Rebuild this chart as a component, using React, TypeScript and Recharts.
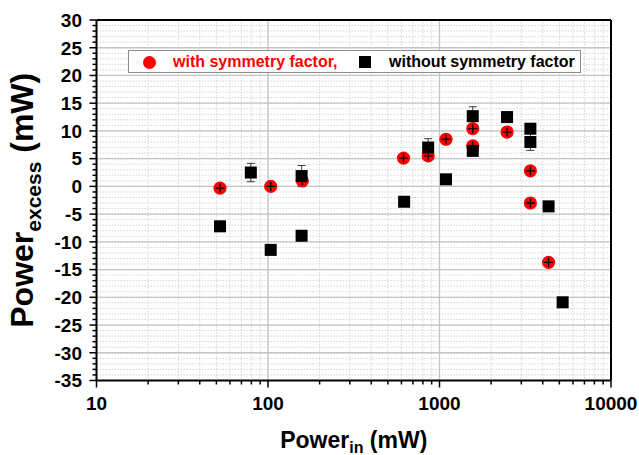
import {
  ScatterChart, Scatter, XAxis, YAxis, CartesianGrid,
  ReferenceLine, ErrorBar, Legend, Label,
} from 'recharts'

const FONT = 'Arial, "Liberation Sans", sans-serif'

// series names
const SERIES = ['with symmetry factor,', 'without symmetry factor']

// with symmetry factor (red)
const withX = [52.5, 103.7, 158.5, 617, 859, 1091, 1563, 1563, 2477, 3388, 3388, 4325]
const withY = [-0.3, 0.0, 1.0, 5.1, 5.5, 8.5, 10.4, 7.3, 9.8, 2.8, -3.0, -13.7]

// without symmetry factor (black), with y error
const withoutX = [52.5, 79.4, 103.7, 157, 157, 622, 859, 1091, 1563, 1563, 2477, 3388, 3388, 4325, 5224]
const withoutY = [-7.2, 2.5, -11.45, 1.86, -8.9, -2.77, 7.0, 1.27, 12.66, 6.4, 12.5, 10.4, 8.0, -3.6, -20.9]
const withoutErr = [0, 1.65, 0, 1.9, 0, 0, 1.6, 0, 1.7, 0, 0, 0, 1.5, 0, 0]

// axis ticks
const xMajor = [10, 100, 1000, 10000]
const xMinorSteps = [2, 3, 4, 5, 6, 7, 8, 9]
const yMajor = [-35, -30, -25, -20, -15, -10, -5, 0, 5, 10, 15, 20, 25, 30]

const xTicks: number[] = []
xMajor.forEach((d, i) => {
  xTicks.push(d)
  if (i < xMajor.length - 1) xMinorSteps.forEach((k) => xTicks.push(d * k))
})
const yTicks: number[] = []
for (let v = -35; v <= 30; v++) yTicks.push(v)

const withData = withX.map((x, i) => ({ x, y: withY[i] }))
const withoutData = withoutX.map((x, i) => ({ x, y: withoutY[i], err: withoutErr[i] }))

function RedDot({ cx, cy }: any) {
  return (
    <g>
      <circle cx={cx} cy={cy} r={6.6} fill="#ff0000" />
      <line x1={cx} y1={cy - 4.5} x2={cx} y2={cy + 4.5} stroke="#000" strokeWidth={1.3} />
      <line x1={cx - 4.5} y1={cy} x2={cx + 4.5} y2={cy} stroke="#000" strokeWidth={1.3} />
    </g>
  )
}

function BlackSquare({ cx, cy }: any) {
  return <rect x={cx - 6} y={cy - 6} width={12} height={12} fill="#000" />
}

function XTick({ x, y, payload }: any) {
  const major = xMajor.includes(payload.value)
  return (
    <g>
      <line x1={x} y1={y} x2={x} y2={y + (major ? 7 : 4)} stroke="#000" strokeWidth={1.5} />
      {major && (
        <text x={x} y={y + 29} textAnchor="middle" fontFamily={FONT} fontWeight="bold" fontSize={19} fill="#000">
          {payload.value}
        </text>
      )}
    </g>
  )
}

function YTick({ x, y, payload }: any) {
  const major = yMajor.includes(payload.value)
  return (
    <g>
      <line x1={x} y1={y} x2={x - (major ? 7 : 4)} y2={y} stroke="#000" strokeWidth={1.5} />
      {major && (
        <text x={x - 14.5} y={y} dy="0.36em" textAnchor="end" fontFamily={FONT} fontWeight="bold" fontSize={19} fill="#000">
          {payload.value}
        </text>
      )}
    </g>
  )
}

function XTitle({ viewBox }: any) {
  const cx = viewBox.x + viewBox.width / 2
  return (
    <text x={cx} y={viewBox.y + 67.5} textAnchor="middle" fontFamily={FONT} fontWeight="bold" fontSize={23} fill="#000">
      Power<tspan fontSize={16} dy={5}>in</tspan><tspan dy={-5}> (mW)</tspan>
    </text>
  )
}

function YTitle({ viewBox }: any) {
  const cy = viewBox.y + viewBox.height / 2
  const bx = 33
  return (
    <text x={bx} y={cy} transform={`rotate(-90, ${bx}, ${cy})`} textAnchor="middle" fontFamily={FONT} fontWeight="bold" fontSize={32} fill="#000">
      Power<tspan fontSize={21} dy={8}>excess</tspan><tspan dy={-8}> (mW)</tspan>
    </text>
  )
}

function LegendBox({ payload }: any) {
  const items = payload ?? []
  return (
    <div
      style={{
        width: 453, height: 23, boxSizing: 'border-box', position: 'relative',
        border: '1px solid #8c8c8c', background: '#fff',
        fontFamily: FONT, fontWeight: 'bold', fontSize: 16, lineHeight: '18px',
      }}
    >
      <span style={{ position: 'absolute', left: 13.5, top: 4.5, width: 13, height: 13, borderRadius: '50%', background: items[0]?.color ?? '#ff0000' }} />
      <span style={{ position: 'absolute', left: 44, top: 1.5, color: items[0]?.color ?? '#ff0000', whiteSpace: 'nowrap' }}>
        {items[0]?.value ?? SERIES[0]}
      </span>
      <span style={{ position: 'absolute', left: 230, top: 5, width: 12, height: 12, background: items[1]?.color ?? '#000' }} />
      <span style={{ position: 'absolute', left: 260, top: 1.5, color: items[1]?.color ?? '#000', whiteSpace: 'nowrap' }}>
        {items[1]?.value ?? SERIES[1]}
      </span>
    </div>
  )
}

export default function App() {
  return (
    <div style={{ position: 'absolute', left: 0, top: 0, width: 639, height: 455, background: '#fff' }}>
      <ScatterChart width={639} height={455} margin={{ top: 20, right: 28, bottom: 0, left: 0 }}>
        {/* fine dotted grid on every tick */}
        <CartesianGrid stroke="#d4d4d4" strokeDasharray="1.5 1.5" strokeWidth={1} />

        <XAxis
          dataKey="x"
          type="number"
          scale="log"
          domain={[10, 10000]}
          ticks={xTicks}
          interval={0}
          allowDataOverflow
          height={74.5}
          tickSize={0}
          tickMargin={0}
          tickLine={false}
          tick={<XTick />}
          axisLine={{ stroke: '#000', strokeWidth: 2 }}
        >
          <Label content={<XTitle />} />
        </XAxis>
        <YAxis
          dataKey="y"
          type="number"
          domain={[-35, 30]}
          ticks={yTicks}
          interval={0}
          allowDataOverflow
          width={96.5}
          tickSize={0}
          tickMargin={0}
          tickLine={false}
          tick={<YTick />}
          axisLine={{ stroke: '#000', strokeWidth: 2 }}
        >
          <Label content={<YTitle />} />
        </YAxis>

        {/* solid major grid */}
        {yMajor.slice(1, -1).map((v) => (
          <ReferenceLine key={`y${v}`} y={v} stroke="#c4c4c4" strokeWidth={1.3} />
        ))}
        {xMajor.slice(1, -1).map((v) => (
          <ReferenceLine key={`x${v}`} x={v} stroke="#c4c4c4" strokeWidth={1.3} />
        ))}

        {/* frame top / right */}
        <ReferenceLine y={30} stroke="#000" strokeWidth={2} />
        <ReferenceLine x={10000} stroke="#000" strokeWidth={2} />

        <Legend
          verticalAlign="middle"
          align="center"
          content={<LegendBox />}
          wrapperStyle={{ top: 50, left: 128, width: 453, height: 23 }}
        />

        <Scatter
          name={SERIES[0]}
          data={withData}
          fill="#ff0000"
          shape={<RedDot />}
          isAnimationActive={false}
        />
        <Scatter
          name={SERIES[1]}
          data={withoutData}
          fill="#000000"
          shape={<BlackSquare />}
          isAnimationActive={false}
        >
          <ErrorBar dataKey="err" direction="y" width={4} stroke="#3a3a3a" strokeWidth={1} />
        </Scatter>
      </ScatterChart>
    </div>
  )
}
